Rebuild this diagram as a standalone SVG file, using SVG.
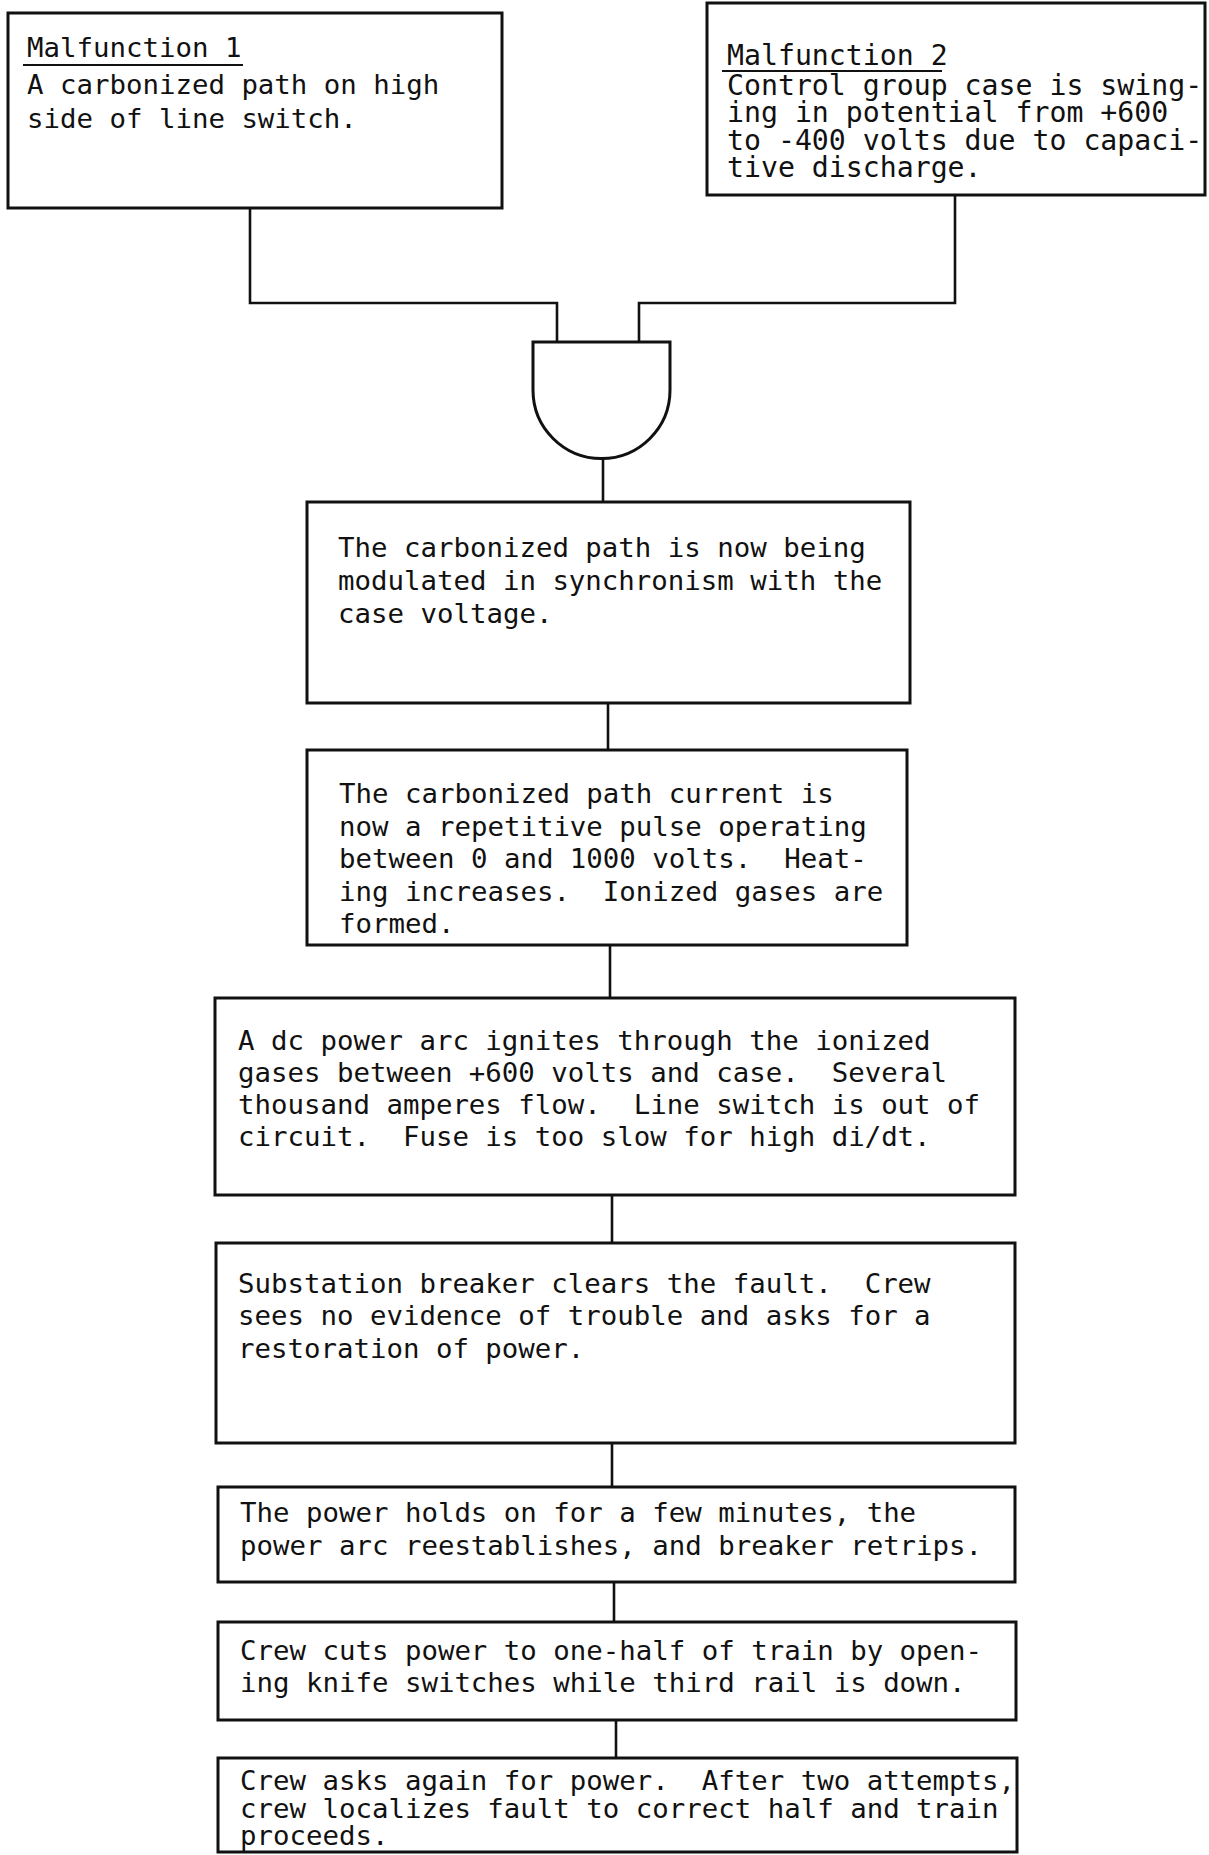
<svg xmlns="http://www.w3.org/2000/svg" width="1209" height="1855" viewBox="0 0 1209 1855">
<style>
.box{fill:#fff;stroke:#111;stroke-width:3}
.con{fill:none;stroke:#111;stroke-width:2.6}
.gate{fill:#fff;stroke:#111;stroke-width:3}
text{font-family:"DejaVu Sans Mono","Liberation Mono",monospace;font-size:27.4px;fill:#111;white-space:pre}
.wide{font-size:28.2px}
.ul{stroke:#111;stroke-width:2}
</style>
<rect width="1209" height="1855" fill="#fff"/>
<g id="connectors">
<polyline class="con" points="250,208 250,303 557,303 557,342"/>
<polyline class="con" points="955,195 955,303 639,303 639,342"/>
<line class="con" x1="603" y1="458" x2="603" y2="502"/>
<line class="con" x1="608" y1="703" x2="608" y2="750"/>
<line class="con" x1="610" y1="945" x2="610" y2="998"/>
<line class="con" x1="612" y1="1195" x2="612" y2="1243"/>
<line class="con" x1="612" y1="1443" x2="612" y2="1487"/>
<line class="con" x1="614" y1="1582" x2="614" y2="1622"/>
<line class="con" x1="616" y1="1720" x2="616" y2="1758"/>
</g>
<g id="malfunction1">
<rect class="box" x="8" y="13" width="494" height="195"/>
<text x="27" y="57">Malfunction 1</text>
<line class="ul" x1="23" y1="65" x2="243" y2="65"/>
<text x="27" y="94">A carbonized path on high</text>
<text x="27" y="128">side of line switch.</text>
</g>
<g id="malfunction2">
<rect class="box" x="707" y="3" width="498" height="192"/>
<text class="wide" x="727" y="65">Malfunction 2</text>
<line class="ul" x1="722" y1="71" x2="942" y2="71"/>
<text class="wide" x="727" y="95">Control group case is swing-</text>
<text class="wide" x="727" y="122">ing in potential from +600</text>
<text class="wide" x="727" y="150">to -400 volts due to capaci-</text>
<text class="wide" x="727" y="177">tive discharge.</text>
</g>
<g id="and-gate">
<path class="gate" d="M533,342 L670,342 L670,390 A68.5,68.5 0 0 1 533,390 Z"/>
</g>
<g id="step1">
<rect class="box" x="307" y="502" width="603" height="201"/>
<text x="338" y="557">The carbonized path is now being</text>
<text x="338" y="590">modulated in synchronism with the</text>
<text x="338" y="623">case voltage.</text>
</g>
<g id="step2">
<rect class="box" x="307" y="750" width="600" height="195"/>
<text x="339" y="803">The carbonized path current is</text>
<text x="339" y="835.5">now a repetitive pulse operating</text>
<text x="339" y="868">between 0 and 1000 volts.  Heat-</text>
<text x="339" y="900.5">ing increases.  Ionized gases are</text>
<text x="339" y="933">formed.</text>
</g>
<g id="step3">
<rect class="box" x="215" y="998" width="800" height="197"/>
<text x="238" y="1050">A dc power arc ignites through the ionized</text>
<text x="238" y="1082">gases between +600 volts and case.  Several</text>
<text x="238" y="1114">thousand amperes flow.  Line switch is out of</text>
<text x="238" y="1146">circuit.  Fuse is too slow for high di/dt.</text>
</g>
<g id="step4">
<rect class="box" x="216" y="1243" width="799" height="200"/>
<text x="238" y="1293">Substation breaker clears the fault.  Crew</text>
<text x="238" y="1325">sees no evidence of trouble and asks for a</text>
<text x="238" y="1358">restoration of power.</text>
</g>
<g id="step5">
<rect class="box" x="218" y="1487" width="797" height="95"/>
<text x="240" y="1522">The power holds on for a few minutes, the</text>
<text x="240" y="1555">power arc reestablishes, and breaker retrips.</text>
</g>
<g id="step6">
<rect class="box" x="218" y="1622" width="798" height="98"/>
<text x="240" y="1660">Crew cuts power to one-half of train by open-</text>
<text x="240" y="1692">ing knife switches while third rail is down.</text>
</g>
<g id="step7">
<rect class="box" x="218" y="1758" width="799" height="94"/>
<text x="240" y="1790">Crew asks again for power.  After two attempts,</text>
<text x="240" y="1818">crew localizes fault to correct half and train</text>
<text x="240" y="1845">proceeds.</text>
</g>
</svg>
